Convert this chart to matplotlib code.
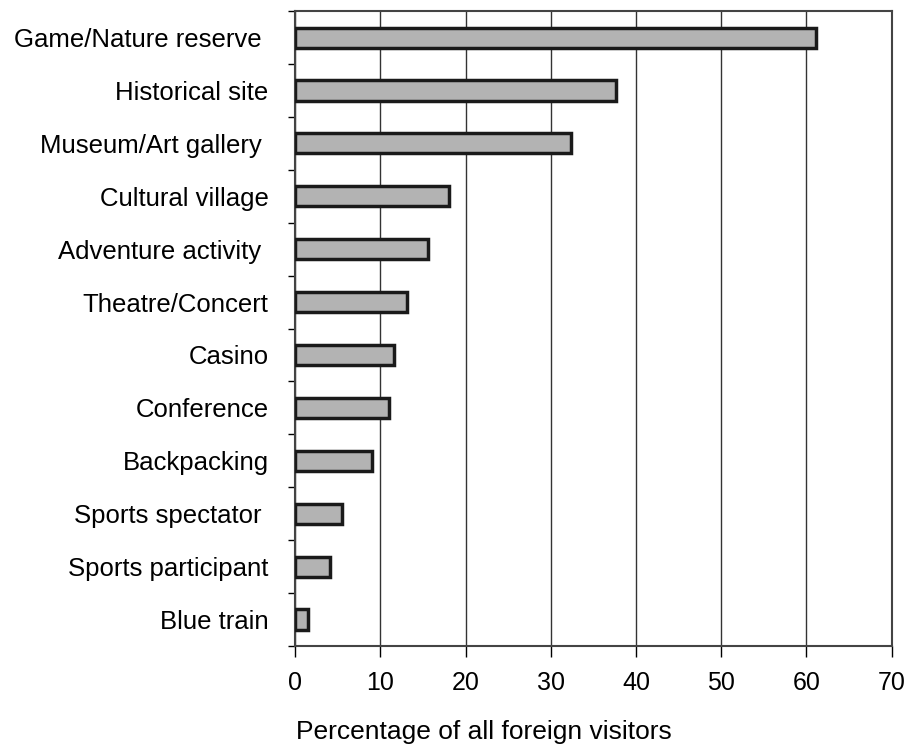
import matplotlib
matplotlib.use("Agg")
import matplotlib.pyplot as plt
import numpy as np

categories = ["Game/Nature reserve ", "Historical site", "Museum/Art gallery ", "Cultural village",
              "Adventure activity ", "Theatre/Concert", "Casino", "Conference", "Backpacking",
              "Sports spectator ", "Sports participant", "Blue train"]
values = [61.1, 37.6, 32.4, 18.0, 15.6, 13.1, 11.6, 11.0, 9.0, 5.5, 4.1, 1.5]
xticks = [0, 10, 20, 30, 40, 50, 60, 70]

plt.rcParams['font.family'] = ['Liberation Sans', 'DejaVu Sans']

fig = plt.figure(figsize=(9.08, 7.45), dpi=100)
ax = fig.add_axes([0.325, 0.133, 0.657, 0.852])

n = len(categories)
ypos = np.arange(n)
ax.barh(ypos, values, height=0.38, color='#b3b3b3', edgecolor='#1a1a1a', linewidth=2.5, zorder=3)
ax.set_ylim(n - 0.5, -0.5)
ax.set_xlim(0, 70)

ax.set_yticks(ypos)
ax.set_yticklabels(categories, fontsize=18.5)
ax.tick_params(axis='y', which='major', length=0, pad=19)
ax.set_yticks(np.arange(-0.5, n, 1.0), minor=True)
ax.tick_params(axis='y', which='minor', length=5, width=1, direction='out')

ax.set_xticks(xticks)
ax.set_xticklabels([str(t) for t in xticks], fontsize=18)
ax.tick_params(axis='x', length=8, width=1, direction='out', pad=10)

ax.grid(axis='x', color='#333333', linewidth=1, zorder=0)
for s in ax.spines.values():
    s.set_linewidth(1.5)
    s.set_color('#444444')

fig.text(484 / 908, 6 / 745, "Percentage of all foreign visitors", fontsize=19,
         ha='center', va='baseline')

fig.savefig("out.png", dpi=100)
